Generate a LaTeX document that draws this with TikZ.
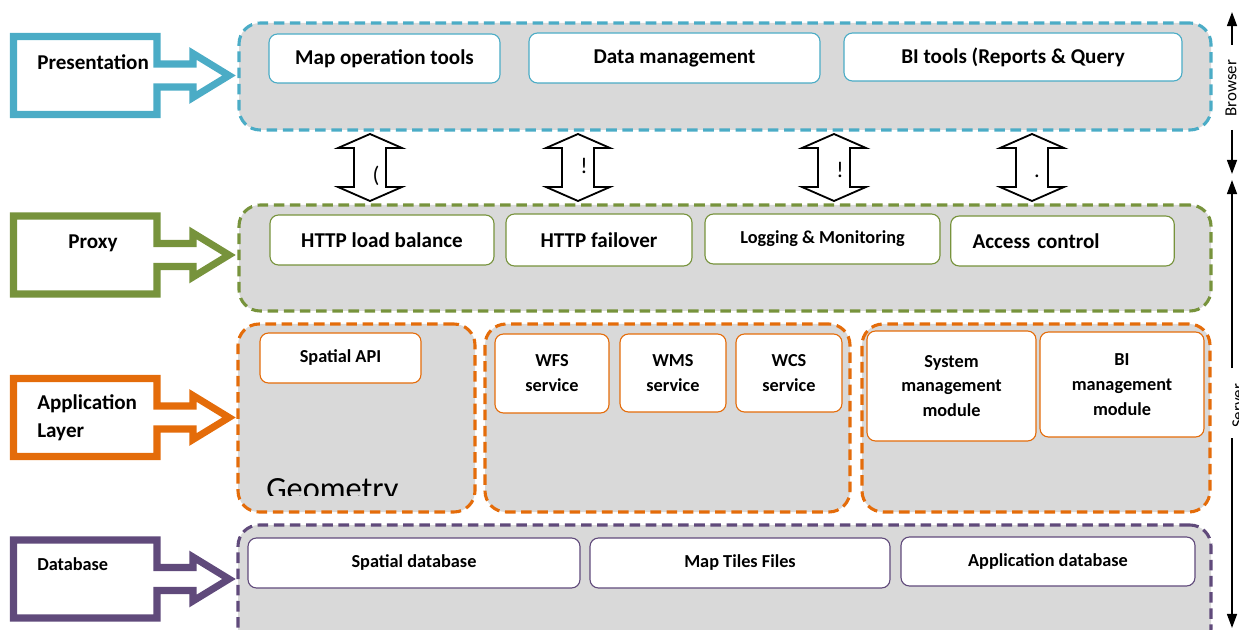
\documentclass[tikz,border=0pt]{standalone}
\usepackage{fontspec}
\setmainfont{Carlito}
\usetikzlibrary{arrows.meta}
\definecolor{prescol}{HTML}{4BACC6}
\definecolor{proxcol}{HTML}{77933C}
\definecolor{appcol}{HTML}{E46C0A}
\definecolor{dbcol}{HTML}{604A7B}
\definecolor{panelgray}{HTML}{D9D9D9}
\def\px{0.025cm}
\newcommand{\layerarrow}[2]{\draw[line width=5pt, #1] (13.5,#2-39) -- (157,#2-39) -- (157,#2-11.5) -- (193,#2-11.5) -- (193,#2-22) -- (229,#2) -- (193,#2+22) -- (193,#2+11.5) -- (157,#2+11.5) -- (157,#2+39) -- (13.5,#2+39) -- cycle;}

\begin{document}
\begin{tikzpicture}[x=\px, y=-\px,
		panel/.style={draw, fill=panelgray, line width=2.2pt, dash pattern=on 7.5pt off 4pt, rounded corners=15pt, inner sep=0pt},
		box/.style={draw, fill=white, line width=0.8pt, rounded corners=6pt, inner sep=0pt, align=center},
		big/.style={font=\fontsize{15}{18}\selectfont\bfseries},
		small/.style={font=\fontsize{13}{17.7}\selectfont\bfseries},
		vline/.style={line width=1.4pt, -{Triangle[length=10pt, width=7pt]}}]
			\useasboundingbox (0,0) rectangle (1239,630);
			\layerarrow{prescol}{75.5}
			\layerarrow{proxcol}{255}
			\layerarrow{appcol}{417.5}
			\layerarrow{dbcol}{579}
			\node[big, anchor=west, inner xsep=0pt] (lpres) at (37,62) {Presentation};
			\node[big] (lproxy) at (93,243) {Proxy};
			\node[big, anchor=west, inner xsep=0pt, align=left, font=\fontsize{15}{19.8}\selectfont\bfseries] (lapp) at (37,418) {Application\\Layer};
			\node[small, anchor=west, inner xsep=0pt] (ldb) at (37,564) {Database};
			\node[panel, draw=prescol, minimum width=972*\px, minimum height=107*\px] (pres) at (725,76.5) {};
			\node[panel, draw=proxcol, minimum width=972*\px, minimum height=106*\px] (proxy) at (725,258) {};
			\node[panel, draw=appcol, minimum width=237*\px, minimum height=188*\px] (geom) at (356.5,418) {};
			\node[panel, draw=appcol, minimum width=365*\px, minimum height=188*\px] (ogc) at (667.5,418) {};
			\node[panel, draw=appcol, minimum width=348*\px, minimum height=188*\px] (mgmt) at (1036,418) {};
			\node[panel, draw=dbcol, minimum width=973*\px, minimum height=125*\px] (db) at (724.5,587.5) {};
			\node[box, big, draw=prescol, minimum width=231*\px, minimum height=49*\px] (mapops) at (384.5,58.5) {Map operation tools};
			\node[box, big, draw=prescol, minimum width=291*\px, minimum height=50*\px] (datamgmt) at (674.5,58) {Data management};
			\node[box, big, draw=prescol, minimum width=338*\px, minimum height=48*\px] (bitools) at (1013,57) {BI tools (Reports \& Query};
			\node[box, big, draw=proxcol, minimum width=224*\px, minimum height=50*\px] (loadbal) at (382,240) {HTTP load balance};
			\node[box, big, draw=proxcol, minimum width=186*\px, minimum height=52*\px] (failover) at (599,240) {HTTP failover};
			\node[box, small, draw=proxcol, minimum width=235*\px, minimum height=50*\px] (logging) at (822.5,239) {Logging \& Monitoring};
			\node[box, big, draw=proxcol, text width=128pt, inner xsep=15.5pt, align=left, minimum height=50*\px] (access) at (1062.5,241) {Access control};
			\node[box, small, draw=appcol, minimum width=161*\px, minimum height=50*\px] (spatialapi) at (340.5,358) {Spatial API};
			\node[box, small, draw=appcol, minimum width=114*\px, minimum height=79*\px] (wfs) at (552,373.5) {WFS\\service};
			\node[box, small, draw=appcol, minimum width=106*\px, minimum height=78*\px] (wms) at (673,373) {WMS\\service};
			\node[box, small, draw=appcol, minimum width=106*\px, minimum height=78*\px] (wcs) at (789,373) {WCS\\service};
			\node[box, small, draw=appcol, minimum width=169*\px, minimum height=110*\px] (sysmgmt) at (951.5,386) {System\\management\\module};
			\node[box, small, draw=appcol, minimum width=164*\px, minimum height=105*\px] (bimgmt) at (1122,384.5) {BI\\management\\module};
			\begin{scope}
				\clip (238,320) rectangle (476,495);
				\node[font=\fontsize{23}{27}\selectfont, anchor=base west, inner sep=0pt] (geomtxt) at (266,499) {Geometry};
			\end{scope}
			\node[box, small, draw=dbcol, minimum width=332*\px, minimum height=50*\px] (spatialdb) at (414,563) {Spatial database};
			\node[box, small, draw=dbcol, minimum width=300*\px, minimum height=50*\px] (maptiles) at (740,563) {Map Tiles Files};
			\node[box, small, draw=dbcol, minimum width=294*\px, minimum height=49*\px] (appdb) at (1048,561.5) {Application database};
			\foreach \x in {370,578,834,1032}
				\draw[line width=1.3pt, fill=white] (\x,134) -- (\x+32,148) -- (\x+16,148) -- (\x+16,187) -- (\x+32,187) -- (\x,201) -- (\x-32,187) -- (\x-16,187) -- (\x-16,148) -- (\x-32,148) -- cycle;
			\node[font=\fontsize{16}{18}\selectfont] (fa) at (376,176) {(};
			\node[font=\fontsize{16}{18}\selectfont] (fb) at (584,166) {!};
			\node[font=\fontsize{16}{18}\selectfont] (fc) at (840,170) {!};
			\node[font=\fontsize{16}{18}\selectfont] (fd) at (1037,176) {.};
			\node[rotate=90, inner sep=1pt, font=\fontsize{12}{14}\selectfont] (browser) at (1231,88) {Browser};
			\node[rotate=90, inner sep=1pt, font=\fontsize{12}{14}\selectfont] (server) at (1238,406) {Server};
			\coordinate (btop) at (1232,12);
			\coordinate (bbot) at (1232,174);
			\coordinate (stop) at (1232,180);
			\coordinate (sbot) at (1232,628);
			\draw[vline] (1232,45) -- (btop);
			\draw[vline] (1232,130) -- (bbot);
			\draw[vline] (1232,368) -- (stop);
			\draw[vline] (1232,438) -- (sbot);
		\end{tikzpicture}
\end{document}
